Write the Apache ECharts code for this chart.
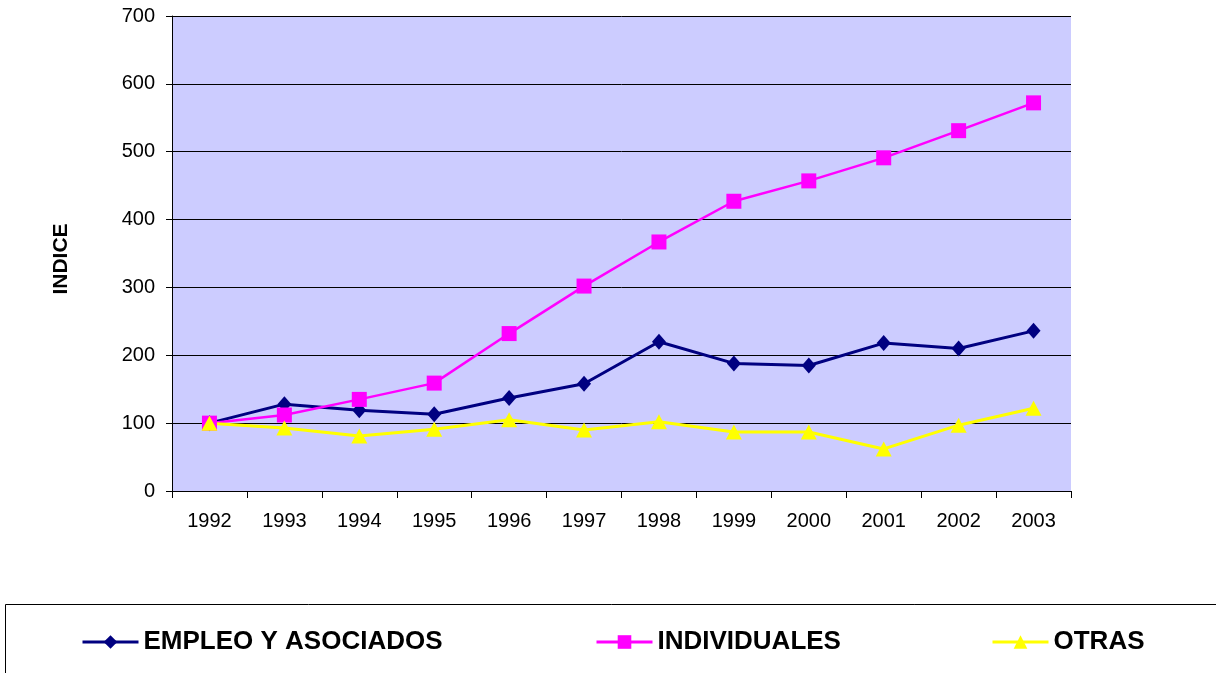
<!DOCTYPE html>
<html>
<head>
<meta charset="utf-8">
<script src="https://cdn.jsdelivr.net/npm/echarts@6/dist/echarts.min.js"></script>
<style>
html,body{margin:0;padding:0;background:#fff;}
#chart{width:1216px;height:673px;}
</style>
</head>
<body>
<div id="chart"></div>
<script>
var years = ['1992','1993','1994','1995','1996','1997','1998','1999','2000','2001','2002','2003'];
var empleo = [100,128,119,113,137,158,220,188,185,218,210,236];
var individuales = [100,112,135,159,232,302,367,427,457,491,531,572];
var otras = [100,93,81,91,105,90,102,87,87,62,97,122];
var seriesNames = ['EMPLEO Y ASOCIADOS','INDIVIDUALES','OTRAS'];
var yTitle = 'INDICE';

var chart = echarts.init(document.getElementById('chart'), null, {renderer:'canvas'});
var font = 'Liberation Sans, Arial, sans-serif';
function leg(name, left){
  return {
    data:[name], left:left, top:629, orient:'horizontal',
    itemWidth:56, itemHeight:17, itemGap:0,
    padding:0,
    lineStyle:{width:3},
    textStyle:{fontFamily:font, fontSize:26, fontWeight:'bold', color:'#000', padding:[0,0,0,0]}
  };
}
chart.setOption({
  animation:false,
  backgroundColor:'#fff',
  grid:{left:172, right:145, top:16, bottom:182, show:true, backgroundColor:'#CCCCFF', borderWidth:0},
  legend:[leg(seriesNames[0],81), leg(seriesNames[1],595), leg(seriesNames[2],991)],
  graphic:[
    {type:'rect', shape:{x:5.5, y:604.5, width:1400, height:200}, style:{fill:'none', stroke:'#000', lineWidth:1}, z:-1},
    {type:'text', x:61, y:259, rotation:Math.PI/2, style:{text:yTitle, fontFamily:font, fontSize:21, fontWeight:'bold', fill:'#000', align:'center', verticalAlign:'middle'}}
  ],
  xAxis:{
    type:'category', data:years, boundaryGap:true,
    axisLine:{lineStyle:{color:'#000', width:1}},
    axisTick:{show:true, length:7, lineStyle:{color:'#000'}},
    axisLabel:{color:'#000', fontFamily:font, fontSize:20, margin:20},
    splitLine:{show:false}
  },
  yAxis:{
    type:'value', min:0, max:700, interval:100,
    axisLine:{show:true, lineStyle:{color:'#000', width:1}},
    axisTick:{show:true, length:6, lineStyle:{color:'#000'}},
    axisLabel:{color:'#000', fontFamily:font, fontSize:20, margin:17},
    splitLine:{show:true, lineStyle:{color:'#000', width:1}}
  },
  series:[
    {name:seriesNames[0], type:'line', data:empleo, symbol:'diamond', symbolSize:[14,16],
     itemStyle:{color:'#000080'}, lineStyle:{color:'#000080', width:3}},
    {name:seriesNames[1], type:'line', data:individuales, symbol:'rect', symbolSize:15,
     itemStyle:{color:'#FF00FF'}, lineStyle:{color:'#FF00FF', width:2.5}},
    {name:seriesNames[2], type:'line', data:otras, symbol:'triangle', symbolSize:[16,15],
     itemStyle:{color:'#FFFF00'}, lineStyle:{color:'#FFFF00', width:3}}
  ]
});
</script>
</body>
</html>
